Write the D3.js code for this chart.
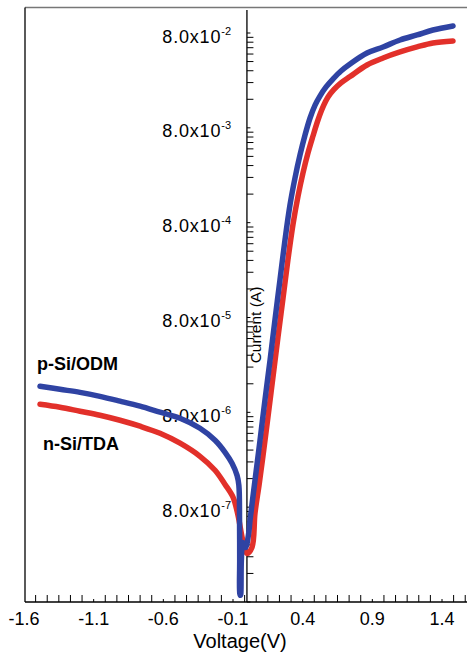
<!DOCTYPE html>
<html><head><meta charset="utf-8">
<script src="https://cdn.jsdelivr.net/npm/d3@7"></script>
<style>body{margin:0;background:#fff}svg{display:block}text{font-family:"Liberation Sans",Arial,sans-serif}</style>
</head><body>
<script>
const seriesNames = ["p-Si/ODM", "n-Si/TDA"];
const seriesColors = ["#2f43a3", "#e2302a"];
const voltageP = [-1.485,-1.342,-1.198,-1.055,-0.911,-0.767,-0.624,-0.480,-0.337,-0.229,-0.157,-0.107,-0.071,-0.058,-0.053,-0.052,-0.051,-0.046,-0.040,-0.030,-0.010,0.014,0.022,0.058,0.094,0.130,0.166,0.201,0.237,0.273,0.309,0.345,0.381,0.417,0.453,0.489,0.524,0.568,0.618,0.675,0.740,0.862,0.977,1.099,1.221,1.335,1.479];
const currentP = [1.51e-5,1.40e-5,1.30e-5,1.18e-5,1.05e-5,9.28e-6,8.02e-6,6.93e-6,5.43e-6,4.06e-6,3.03e-6,2.32e-6,1.73e-6,1.36e-6,5.8e-7,2.2e-7,9.8e-8,9.4e-8,2.2e-7,3.4e-7,3.0e-7,4.4e-7,5.8e-7,1.54e-6,4.06e-6,1.10e-5,2.84e-5,7.51e-5,1.99e-4,5.25e-4,1.23e-3,2.37e-3,4.14e-3,6.72e-3,1.016e-2,1.39e-2,1.73e-2,2.16e-2,2.62e-2,3.18e-2,3.77e-2,4.92e-2,5.70e-2,6.75e-2,7.63e-2,8.61e-2,9.49e-2];
const voltageN = [-1.485,-1.342,-1.198,-1.055,-0.911,-0.767,-0.624,-0.480,-0.337,-0.229,-0.157,-0.100,-0.064,-0.030,0.000,0.036,0.058,0.087,0.115,0.151,0.187,0.223,0.259,0.295,0.331,0.367,0.402,0.438,0.474,0.510,0.546,0.582,0.625,0.675,0.740,0.862,0.977,1.099,1.221,1.335,1.479];
const currentN = [9.74e-6,9.06e-6,8.22e-6,7.46e-6,6.60e-6,5.71e-6,4.81e-6,3.78e-6,2.75e-6,1.96e-6,1.39e-6,1.02e-6,6.55e-7,3.57e-7,2.60e-7,3.01e-7,6.94e-7,1.37e-6,2.77e-6,7.14e-6,1.89e-5,4.98e-5,1.28e-4,3.31e-4,7.75e-4,1.53e-3,2.67e-3,4.34e-3,6.56e-3,9.68e-3,1.33e-2,1.69e-2,2.03e-2,2.38e-2,2.78e-2,3.68e-2,4.36e-2,5.05e-2,5.70e-2,6.28e-2,6.59e-2];
const xTickLabels = [-1.6,-1.1,-0.6,-0.1,0.4,0.9,1.4];
const yTickExponents = [-2,-3,-4,-5,-6,-7];
const yMantissa = 8.0;

(function () {
const W = 467, H = 664;
const svg = d3.select("body").append("svg").attr("width", W).attr("height", H);

const x = d3.scaleLinear().domain([-1.6, 1.4]).range([24, 442]);
const y = d3.scaleLog().domain([8e-8, 8e-2]).range([602, 33]);
const fl = 25, fr = W, ft = 7.5, fb = 602;

// frame
svg.append("line").attr("x1", fl).attr("x2", fr).attr("y1", ft).attr("y2", ft).attr("stroke", "#777").attr("stroke-width", 1.5);
svg.append("line").attr("x1", fl).attr("x2", fl).attr("y1", ft).attr("y2", fb).attr("stroke", "#000").attr("stroke-width", 1.3);
svg.append("line").attr("x1", fl).attr("x2", fr).attr("y1", fb).attr("y2", fb).attr("stroke", "#000").attr("stroke-width", 1.3);

// x ticks (6 minor per label step)
const step = 0.5 / 6;
const xt = [];
for (let i = 1; i < 60; i++) { const v = -1.6 + i * step; if (x(v) > fr) break; xt.push(v); }
const isMajor = v => Math.abs(((v + 1.6) / 0.5) - Math.round((v + 1.6) / 0.5)) < 1e-6;
svg.append("g").selectAll("line").data(xt).join("line")
  .attr("x1", d => x(d)).attr("x2", d => x(d))
  .attr("y1", fb).attr("y2", d => fb - (isMajor(d) ? 3 : 7))
  .attr("stroke", "#000").attr("stroke-width", 1);
svg.append("g").selectAll("text").data(xTickLabels).join("text")
  .attr("x", d => x(d)).attr("y", 625).attr("text-anchor", "middle")
  .attr("font-size", 18).text(d => d.toFixed(1));
svg.append("text").attr("x", 240).attr("y", 648).attr("text-anchor", "middle").attr("font-size", 20).text("Voltage(V)");

// y axis at V = 0
const x0 = x(0);
svg.append("line").attr("x1", x0).attr("x2", x0).attr("y1", 10).attr("y2", fb).attr("stroke", "#000").attr("stroke-width", 1.3);
const yt = [];
for (let e = -8; e <= -2; e++) for (let k = 1; k <= 9; k++) { const v = k * yMantissa * Math.pow(10, e); if (y(v) >= 10 && y(v) <= fb) yt.push({v, k}); }
svg.append("g").selectAll("line").data(yt).join("line")
  .attr("x1", x0).attr("x2", d => x0 + (d.k === 1 ? 3.5 : 6.5))
  .attr("y1", d => y(d.v)).attr("y2", d => y(d.v))
  .attr("stroke", "#000").attr("stroke-width", 1);
const yl = svg.append("g").selectAll("text").data(yTickExponents).join("text")
  .attr("x", 231).attr("y", d => y(yMantissa * Math.pow(10, d)) + 9.5)
  .attr("text-anchor", "end").attr("font-size", 18);
yl.append("tspan").attr("letter-spacing", 0.8).text("8.0x10");
yl.append("tspan").attr("font-size", 11).attr("dy", -8).text(d => String(d));
svg.append("text").attr("transform", `translate(${x0 + 14},325) rotate(-90)`)
  .attr("text-anchor", "middle").attr("font-size", 15.5).text("Current (A)");

// curves
const line = d3.line().x(d => x(d[0])).y(d => y(d[1])).curve(d3.curveCatmullRom.alpha(0.5));
const dataN = voltageN.map((v, i) => [v, currentN[i]]);
const dataP = voltageP.map((v, i) => [v, currentP[i]]);
svg.append("path").attr("d", line(dataN)).attr("fill", "none").attr("stroke", seriesColors[1]).attr("stroke-width", 5.5).attr("stroke-linecap", "round").attr("stroke-linejoin", "round");
svg.append("path").attr("d", line(dataP)).attr("fill", "none").attr("stroke", seriesColors[0]).attr("stroke-width", 5.5).attr("stroke-linecap", "round").attr("stroke-linejoin", "round");

// legend labels
svg.append("text").attr("x", 37).attr("y", 370).attr("font-size", 18).attr("font-weight", "bold").text(seriesNames[0]);
svg.append("text").attr("x", 43).attr("y", 450).attr("font-size", 18).attr("font-weight", "bold").text(seriesNames[1]);
})();
</script>
</body></html>
